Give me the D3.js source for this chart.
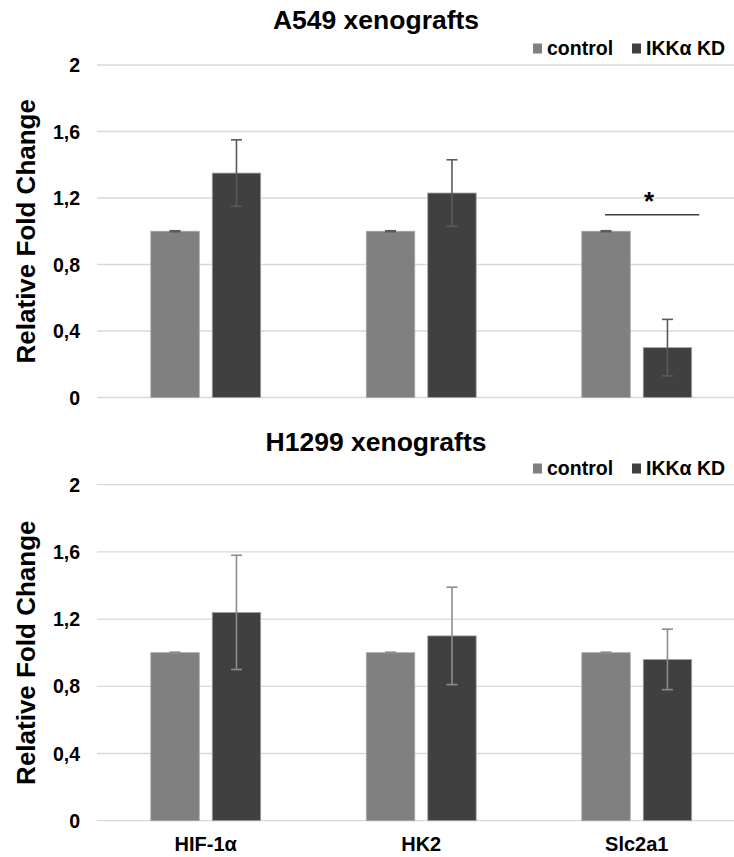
<!DOCTYPE html>
<html>
<head>
<meta charset="utf-8">
<script src="https://cdn.jsdelivr.net/npm/d3@7"></script>
<style>
  html, body { margin: 0; padding: 0; background: #fff; }
  svg { display: block; }
  text { font-family: "Liberation Sans", Arial, sans-serif; font-weight: bold; fill: #000; }
</style>
</head>
<body>
<svg id="chart" width="734" height="857"></svg>
<script>
const categories = ["HIF-1α", "HK2", "Slc2a1"];
const seriesNames = ["control", "IKKα KD"];
const yTicks = [0, 0.4, 0.8, 1.2, 1.6, 2];

const a549Control = [1.0, 1.0, 1.0];
const a549ControlErr = [0.003, 0.003, 0.003];
const a549KD = [1.35, 1.23, 0.30];
const a549KDErr = [0.20, 0.20, 0.17];

const h1299Control = [1.0, 1.0, 1.0];
const h1299ControlErr = [0.003, 0.003, 0.003];
const h1299KD = [1.24, 1.10, 0.96];
const h1299KDErr = [0.34, 0.29, 0.18];

const colors = { "control": "#808080", "IKKα KD": "#404040" };

const svg = d3.select("#chart");
const W = 734;

const x = d3.scaleBand().domain(categories).range([98, 744.5]).paddingInner(0.49).paddingOuter(0.245);
const xs = d3.scaleBand().domain(seriesNames).range([0, x.bandwidth()]).paddingInner(0.211);

const fmt = d => String(d).replace(".", ",");

function panel(cfg) {
  const y = d3.scaleLinear().domain([0, 2]).range([cfg.y0, cfg.y1]);
  const g = svg.append("g");

  g.selectAll("line.grid").data(yTicks).enter().append("line")
    .attr("x1", 97).attr("x2", W)
    .attr("y1", d => y(d)).attr("y2", d => y(d))
    .attr("stroke", "#d9d9d9").attr("stroke-width", 1.3);

  g.selectAll("text.tick").data(yTicks).enter().append("text")
    .attr("x", 80).attr("y", d => y(d)).attr("dy", "0.36em")
    .attr("text-anchor", "end").attr("font-size", 19.5)
    .text(fmt);

  g.append("text")
    .attr("transform", `translate(35,${(cfg.y0 + cfg.y1) / 2}) rotate(-90)`)
    .attr("text-anchor", "middle").attr("font-size", 26)
    .text("Relative Fold Change");

  g.append("text").attr("x", 376).attr("y", cfg.titleY)
    .attr("text-anchor", "middle").attr("font-size", 26.5)
    .text(cfg.title);

  const leg = [
    { name: "control", sx: 533, tx: 547 },
    { name: "IKKα KD", sx: 632, tx: 646 }
  ];
  leg.forEach(l => {
    g.append("rect").attr("x", l.sx).attr("y", cfg.legY - 11.5).attr("width", 9).attr("height", 10)
      .attr("fill", colors[l.name]);
    g.append("text").attr("x", l.tx).attr("y", cfg.legY).attr("font-size", 19.5).text(l.name);
  });

  const rows = [];
  categories.forEach((c, i) => {
    rows.push({ cat: c, s: "control", v: cfg.control[i], e: cfg.controlErr[i] });
    rows.push({ cat: c, s: "IKKα KD", v: cfg.kd[i], e: cfg.kdErr[i] });
  });

  g.selectAll("rect.bar").data(rows).enter().append("rect")
    .attr("x", d => x(d.cat) + xs(d.s))
    .attr("width", xs.bandwidth())
    .attr("y", d => y(d.v))
    .attr("height", d => y(0) - y(d.v))
    .attr("fill", d => colors[d.s])
    .attr("stroke", "#a6a6a6").attr("stroke-width", 0.8);

  const eb = g.selectAll("g.err").data(rows).enter().append("g");
  const cx = d => x(d.cat) + xs(d.s) + xs.bandwidth() / 2;
  eb.append("line")
    .attr("x1", cx).attr("x2", cx)
    .attr("y1", d => y(d.v + d.e)).attr("y2", d => y(d.v - d.e))
    .attr("stroke", cfg.errColor).attr("stroke-width", 1.6);
  eb.append("line")
    .attr("x1", d => cx(d) - 5.5).attr("x2", d => cx(d) + 5.5)
    .attr("y1", d => y(d.v + d.e)).attr("y2", d => y(d.v + d.e))
    .attr("stroke", cfg.errColor).attr("stroke-width", 1.6);
  eb.append("line")
    .attr("x1", d => cx(d) - 5.5).attr("x2", d => cx(d) + 5.5)
    .attr("y1", d => y(d.v - d.e)).attr("y2", d => y(d.v - d.e))
    .attr("stroke", cfg.errColor).attr("stroke-width", 1.6);

  if (cfg.xLabels) {
    g.selectAll("text.xl").data(categories).enter().append("text")
      .attr("x", d => x(d) + x.bandwidth() / 2).attr("y", cfg.xLabelY)
      .attr("text-anchor", "middle").attr("font-size", 20)
      .text(d => d);
  }
  return { y, g };
}

const topPanel = panel({
  title: "A549 xenografts", titleY: 29, legY: 55,
  y0: 397.5, y1: 65,
  control: a549Control, controlErr: a549ControlErr, kd: a549KD, kdErr: a549KDErr,
  errColor: "#5a5a5a", xLabels: false
});

const sc = "Slc2a1";
const sx1 = x(sc) + xs("control") + xs.bandwidth() / 2 - 1;
const sx2 = x(sc) + xs("IKKα KD") + xs.bandwidth() + 7.5;
const sy = topPanel.y(1.1);
topPanel.g.append("line").attr("x1", sx1).attr("x2", sx2).attr("y1", sy).attr("y2", sy)
  .attr("stroke", "#404040").attr("stroke-width", 1.5);
topPanel.g.append("text").attr("x", (sx1 + sx2) / 2 - 3).attr("y", sy - 5)
  .attr("text-anchor", "middle").attr("font-size", 26).text("*");

panel({
  title: "H1299 xenografts", titleY: 451, legY: 475,
  y0: 820.7, y1: 484.7,
  control: h1299Control, controlErr: h1299ControlErr, kd: h1299KD, kdErr: h1299KDErr,
  errColor: "#8c8c8c", xLabels: true, xLabelY: 851
});
</script>
</body>
</html>
